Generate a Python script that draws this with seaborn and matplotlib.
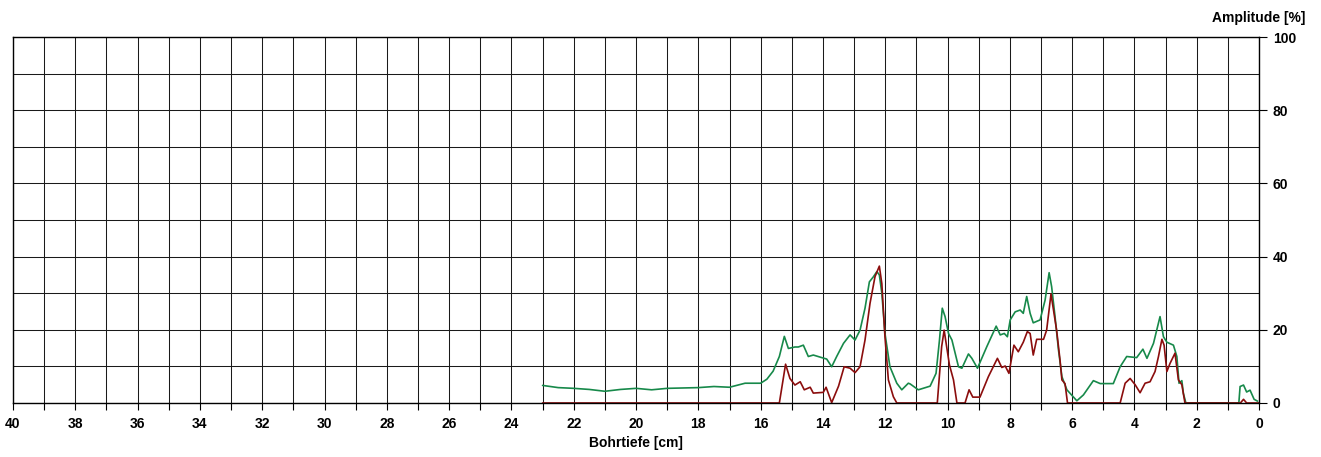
import numpy as np
import pandas as pd
import matplotlib
matplotlib.use("Agg")
import matplotlib.pyplot as plt
import seaborn as sns

# depth [cm] and amplitude [%]
green_depth = [23.0, 22.5, 22.0, 21.5, 21.0, 20.5, 20.0, 19.5, 19.0, 18.5, 18.0, 17.5, 17.0,
               16.5, 16.0, 15.8, 15.6, 15.4, 15.24, 15.11, 14.9, 14.79, 14.63, 14.47, 14.31,
               14.04, 13.88, 13.72, 13.56, 13.34, 13.13, 12.97, 12.81, 12.65, 12.51, 12.38,
               12.27, 12.19, 12.11, 12.01, 11.85, 11.63, 11.47, 11.26, 11.2, 10.94, 10.56,
               10.37, 10.26, 10.17, 10.08, 9.97, 9.86, 9.65, 9.54, 9.33, 9.22, 9.04, 8.74,
               8.44, 8.31, 8.18, 8.08, 7.99, 7.83, 7.67, 7.57, 7.46, 7.35, 7.25, 7.03, 6.87,
               6.74, 6.66, 6.55, 6.44, 6.33, 6.17, 5.85, 5.64, 5.32, 5.1, 4.68, 4.46, 4.25,
               3.93, 3.73, 3.6, 3.39, 3.18, 3.07, 2.96, 2.75, 2.64, 2.57, 2.48, 2.43, 2.35,
               2.0, 1.5, 1.0, 0.65, 0.61, 0.5, 0.4, 0.29, 0.16, 0.05]
green_amp = [4.8, 4.2, 4.0, 3.7, 3.2, 3.7, 4.0, 3.6, 4.0, 4.1, 4.2, 4.5, 4.3,
             5.4, 5.4, 6.5, 8.7, 12.7, 18.2, 14.9, 15.3, 15.3, 15.8, 12.7, 13.1,
             12.4, 12.0, 9.9, 12.7, 16.3, 18.6, 17.2, 19.9, 25.9, 33.1, 34.5,
             35.9, 35.0, 30.0, 19.0, 9.9, 5.4, 3.6, 5.4, 5.2, 3.6, 4.6,
             8.1, 17.2, 25.9, 23.6, 19.0, 17.2, 9.9, 9.5, 13.4, 12.2, 9.5, 15.4,
             21.0, 18.6, 19.0, 18.1, 22.7, 24.9, 25.4, 24.5, 29.1, 24.5, 21.9, 22.7, 28.1,
             35.6, 31.8, 23.6, 14.5, 7.2, 3.6, 0.6, 2.2, 6.1, 5.3, 5.3, 9.9, 12.7,
             12.4, 14.7, 12.2, 16.3, 23.6, 18.1, 16.6, 15.8, 12.7, 5.4, 6.1, 2.6, 0.0,
             0.0, 0.0, 0.0, 0.0, 4.5, 4.9, 3.0, 3.5, 1.0, 0.5]

red_depth = [23.0, 16.0, 15.4, 15.2, 15.06, 14.9, 14.73, 14.6, 14.41, 14.31, 13.99, 13.9,
             13.72, 13.5, 13.32, 13.13, 12.97, 12.81, 12.65, 12.49, 12.33, 12.19, 12.11,
             12.01, 11.9, 11.74, 11.63, 10.5, 10.33, 10.19, 10.11, 10.03, 9.94, 9.81, 9.7,
             9.44, 9.31, 9.19, 8.96, 8.69, 8.4, 8.26, 8.15, 8.03, 7.87, 7.73, 7.57, 7.44,
             7.35, 7.25, 7.14, 6.92, 6.82, 6.68, 6.5, 6.39, 6.33, 6.23, 6.15, 5.0, 4.46,
             4.3, 4.14, 3.98, 3.82, 3.66, 3.5, 3.34, 3.23, 3.12, 3.05, 2.96, 2.86, 2.7,
             2.59, 2.48, 2.38, 1.0, 0.6, 0.5, 0.4, 0.0]
red_amp = [0.0, 0.0, 0.0, 10.6, 6.7, 4.9, 5.8, 3.6, 4.3, 2.7, 2.9, 4.3,
           0.1, 4.6, 9.9, 9.5, 8.3, 9.9, 17.2, 27.2, 34.5, 37.4, 32.6,
           18.1, 6.3, 1.7, 0.0, 0.0, 0.0, 15.4, 19.9, 15.4, 10.4, 6.3, 0.0,
           0.0, 3.6, 1.6, 1.6, 7.2, 12.2, 9.7, 10.1, 8.1, 15.8, 14.0, 16.6, 19.5,
           19.0, 13.1, 17.4, 17.4, 19.9, 29.8, 19.9, 11.7, 6.3, 5.3, 0.0, 0.0, 0.0,
           5.4, 6.7, 5.0, 2.8, 5.4, 5.8, 8.6, 12.7, 17.4, 15.8, 8.6, 10.8, 13.6,
           6.3, 5.0, 0.0, 0.0, 0.0, 1.0, 0.0, 0.0]

green = pd.DataFrame({"depth": green_depth, "amp": green_amp})
red = pd.DataFrame({"depth": red_depth, "amp": red_amp})

sns.set_style("white")
plt.rcParams["font.family"] = ["Liberation Sans", "DejaVu Sans"]
plt.rcParams["font.weight"] = "bold"
plt.rcParams["text.color"] = "black"
plt.rcParams["xtick.color"] = "black"
plt.rcParams["ytick.color"] = "black"
plt.rcParams["axes.labelcolor"] = "black"

fig = plt.figure(figsize=(13.21, 4.57), dpi=100)
ax = fig.add_axes([0.00984, 0.1182, 0.9433, 0.8008])

sns.lineplot(data=green, x="depth", y="amp", color="#17894a", lw=1.2, sort=False, ax=ax)
sns.lineplot(data=red, x="depth", y="amp", color="#8b0d0d", lw=1.2, sort=False, ax=ax)

ax.set_xlim(40, 0)
ax.set_ylim(0, 100)
ax.set_xticks(np.arange(0, 41, 2))
ax.set_xticks(np.arange(0, 41, 1), minor=True)
ax.set_yticks(np.arange(0, 101, 20))
ax.set_yticks(np.arange(0, 101, 10), minor=True)
ax.grid(True, which="both", color="#1a1a1a", lw=0.75)
ax.set_axisbelow(True)

ax.yaxis.tick_right()
ax.tick_params(axis="x", which="both", direction="out", length=5, width=0.8,
               bottom=True, labelsize=10, pad=5)
ax.tick_params(axis="y", which="major", direction="out", length=6, width=0.8,
               right=True, left=False, labelsize=10, pad=4)
ax.tick_params(axis="y", which="minor", length=0)
for lab in ax.get_xticklabels() + ax.get_yticklabels():
    lab.set_fontweight("bold")

for side in ["left", "right", "top", "bottom"]:
    ax.spines[side].set_color("black")
    ax.spines[side].set_linewidth(1.0)

ax.set_xlabel("Bohrtiefe [cm]", fontsize=10, fontweight="bold", labelpad=4)
ax.set_ylabel("")
fig.text(0.988, 0.96, "Amplitude [%]", ha="right", va="center",
         fontsize=10, fontweight="bold")

fig.savefig("out.png", dpi=100)
